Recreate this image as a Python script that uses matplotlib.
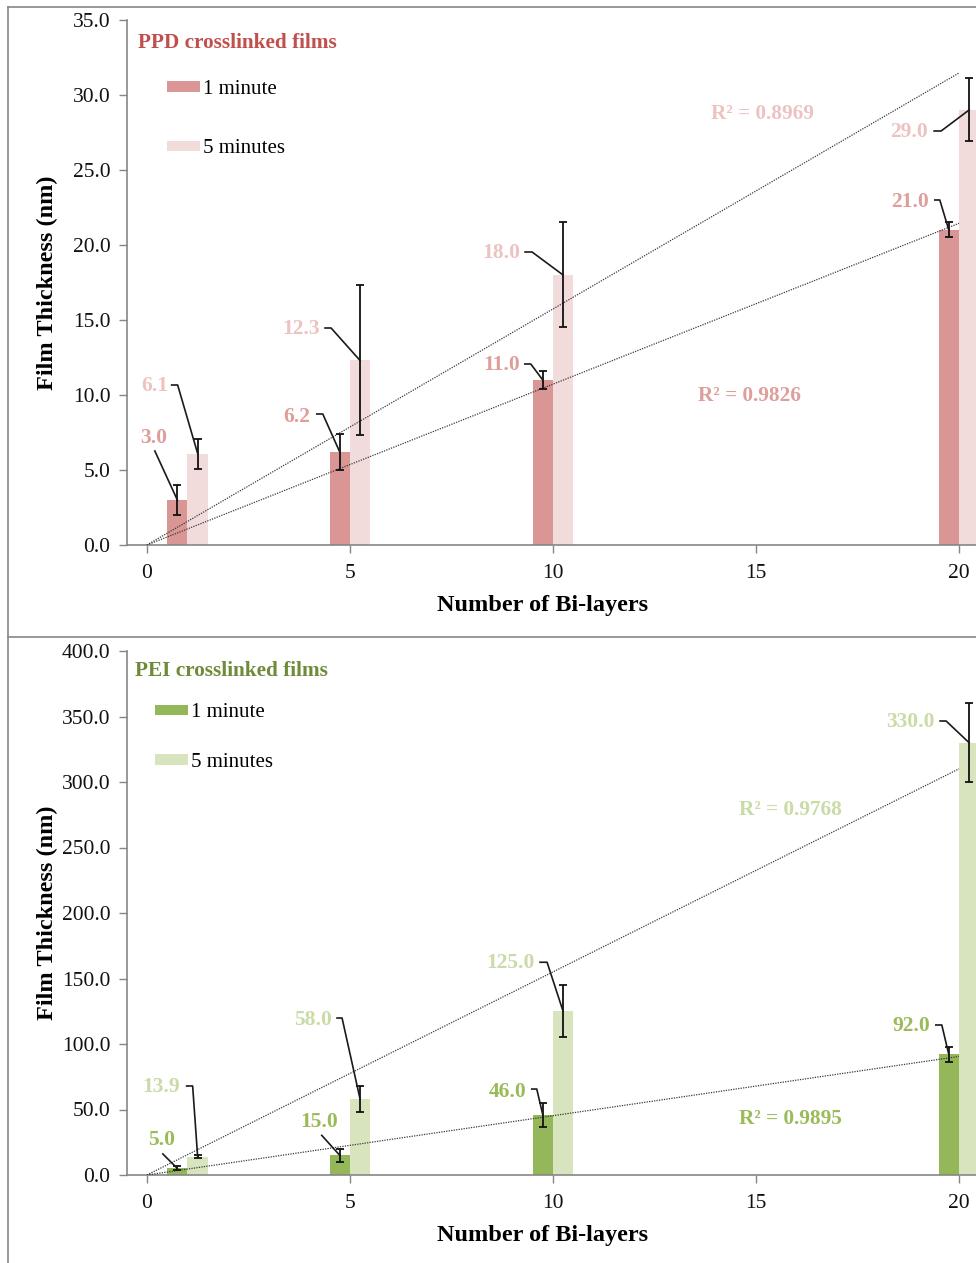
import numpy as np
import matplotlib.pyplot as plt
import matplotlib.transforms as mtransforms
from matplotlib.lines import Line2D
from matplotlib.ticker import FormatStrFormatter

plt.rcParams['font.family'] = ['Liberation Serif', 'DejaVu Serif']

bilayers = np.array([1, 5, 10, 20])
series_labels = ['1 minute', '5 minutes']

ppd_1min = np.array([3.0, 6.2, 11.0, 21.0])
ppd_5min = np.array([6.1, 12.3, 18.0, 29.0])
ppd_1min_err = np.array([1.0, 1.2, 0.6, 0.5])
ppd_5min_err = np.array([1.0, 5.0, 3.5, 2.1])
ppd_r2 = [0.9826, 0.8969]

pei_1min = np.array([5.0, 15.0, 46.0, 92.0])
pei_5min = np.array([13.9, 58.0, 125.0, 330.0])
pei_1min_err = np.array([1.5, 5.0, 9.0, 6.0])
pei_5min_err = np.array([1.0, 10.0, 20.0, 30.0])
pei_r2 = [0.9895, 0.9768]

# label placement, pixels from the bar top: (text_dx, text_dy, lead_dx, lead_dy, stub)
ppd_lead = [
    [(-10.5, 62, -22.5, 49, 0), (-30, 35, -23, 38, 6), (-23, 15, -18, 16, 6), (-20, 28, -14, 30, 5)],
    [(-29, 67.5, -26, 68.5, 6), (-40, 31.5, -35, 32.5, 6), (-43, 22, -38, 23, 7), (-41, -22, -35, -21, 7)],
]
pei_lead = [
    [(-2.5, 28.5, -14.5, 14.5, 0), (-2, 33, -18, 20, 0), (-16, 22.7, -11, 25.7, 5), (-19, 28.5, -13, 29.5, 6)],
    [(-18, 69.8, -11, 70.8, 6), (-28, 79, -23, 81, 5), (-28, 48, -23, 49, 7), (-34, 20.7, -29, 21.7, 6)],
]

W, H = 976, 1263
fig = plt.figure(figsize=(W / 100, H / 100), dpi=100)
grey = '#868686'


def panel(rect, title, title_color, y1, y5, e1, e5, r2, colors, label_colors,
          ymax, ystep, lead, r2_pos, legend_anchor, legend_space, title_pos):
    ax = fig.add_axes(rect)
    width = 0.5
    ax.bar(bilayers - 0.25, y1, width, color=colors[0], label=series_labels[0], zorder=2)
    ax.bar(bilayers + 0.25, y5, width, color=colors[1], label=series_labels[1], zorder=2)

    # linear trendlines forced through the origin
    xs = np.array([0, 20])
    for vals in (y1, y5):
        slope = np.sum(bilayers * vals) / np.sum(bilayers * bilayers)
        ax.plot(xs, slope * xs, color='#3a3a3a', lw=0.9, ls=(0, (1, 1)), zorder=3)

    for off, vals, err in ((-0.25, y1, e1), (0.25, y5, e5)):
        ax.errorbar(bilayers + off, vals, yerr=err, fmt='none', ecolor='#111111',
                    elinewidth=1.3, capsize=3.2, capthick=1.3, zorder=4)

    for k, (off, vals) in enumerate(((-0.25, y1), (0.25, y5))):
        for x, v, (tx, ty, lx, ly, stub) in zip(bilayers + off, vals, lead[k]):
            tr = mtransforms.ScaledTranslation(x, v, ax.transData)
            ax.text(tx, ty, f'{v:.1f}', transform=tr, ha='right', va='center',
                    fontsize=15.5, fontweight='bold', color=label_colors[k], zorder=5)
            ax.plot([lx, lx + stub, 0], [ly, ly, 0], transform=tr, color='#1a1a1a',
                    lw=1.2, clip_on=False, zorder=5)

    for k, (rx, ry) in enumerate(r2_pos):
        ax.text(rx, ry, f'R² = {r2[k]:.4f}', ha='center', va='center', fontsize=15.3,
                fontweight='bold', color=label_colors[k])

    ax.text(title_pos[0], title_pos[1], title, transform=ax.transAxes, ha='left', va='center',
            fontsize=15.3, fontweight='bold', color=title_color)

    ax.legend(loc='upper left', bbox_to_anchor=legend_anchor, frameon=False,
              borderpad=0, borderaxespad=0, handlelength=1.6, handleheight=0.42,
              handletextpad=0.15, labelspacing=legend_space, fontsize=15)

    ax.set_xlim(-0.49, 20.42)
    ax.set_ylim(0, ymax)
    ax.set_xticks([0, 5, 10, 15, 20])
    ax.set_yticks(np.arange(0, ymax + ystep / 2, ystep))
    ax.yaxis.set_major_formatter(FormatStrFormatter('%.1f'))
    ax.tick_params(axis='both', labelsize=15.5, colors=grey, labelcolor='#111111', width=1, length=6)
    ax.tick_params(axis='x', pad=8)
    ax.tick_params(axis='y', pad=6)
    for s in ('top', 'right'):
        ax.spines[s].set_visible(False)
    for s in ('left', 'bottom'):
        ax.spines[s].set_color(grey)
        ax.spines[s].set_linewidth(1.2)
    ax.set_xlabel('Number of Bi-layers', fontsize=17.5, fontweight='bold', va='center')
    ax.set_ylabel('Film Thickness (nm)', fontsize=17.5, fontweight='bold', va='center')
    ax.xaxis.set_label_coords(0.49, -0.115)
    ax.yaxis.set_label_coords(-0.094, 0.5)
    return ax


ax_l, ax_w = 127 / W, (976 - 127) / W
panel([ax_l, 1 - 545 / H, ax_w, 525 / H], 'PPD crosslinked films', '#C0504D',
      ppd_1min, ppd_5min, ppd_1min_err, ppd_5min_err, ppd_r2,
      ['#D99694', '#F2DCDB'], ['#DE9E9C', '#EDC3C2'],
      35, 5, ppd_lead, [(14.85, 9.93), (15.15, 28.7)],
      (0.047, 0.886), 1.95, (0.013, 0.956))

panel([ax_l, 1 - 1175 / H, ax_w, 524 / H], 'PEI crosslinked films', '#6F8B3A',
      pei_1min, pei_5min, pei_1min_err, pei_5min_err, pei_r2,
      ['#94B75A', '#D7E4BD'], ['#9BBB59', '#C9DBA7'],
      400, 50, pei_lead, [(15.84, 42.7), (15.86, 278.6)],
      (0.033, 0.9), 1.45, (0.0094, 0.962))

# panel frames
for seg in (([8, 8], [7, H]), ([8, W], [7, 7]), ([8, W], [637, 637])):
    fig.add_artist(Line2D(np.array(seg[0]) / W, 1 - np.array(seg[1]) / H,
                          transform=fig.transFigure, color=grey, lw=1.2))

fig.savefig('out.png', dpi=100)
